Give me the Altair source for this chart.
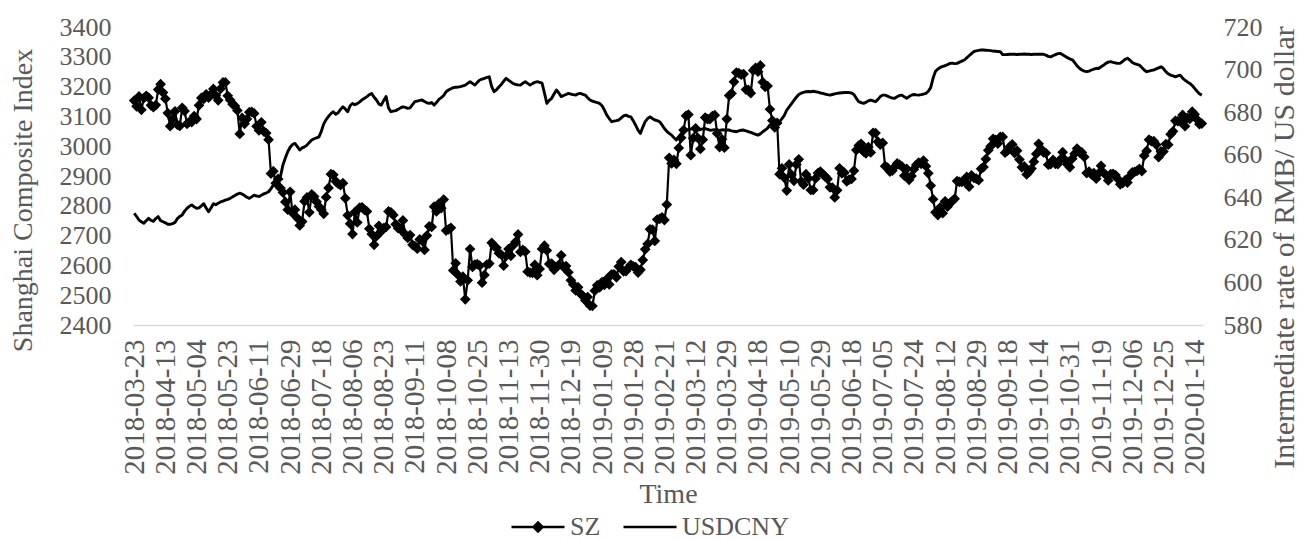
import altair as alt
import pandas as pd

# ---------------- data ----------------
TICK_LABELS = [
    "2018-03-23", "2018-04-13", "2018-05-04", "2018-05-23", "2018-06-11", "2018-06-29",
    "2018-07-18", "2018-08-06", "2018-08-23", "2018-09-11", "2018-10-08", "2018-10-25",
    "2018-11-13", "2018-11-30", "2018-12-19", "2019-01-09", "2019-01-28", "2019-02-21",
    "2019-03-12", "2019-03-29", "2019-04-18", "2019-05-10", "2019-05-29", "2019-06-18",
    "2019-07-05", "2019-07-24", "2019-08-12", "2019-08-29", "2019-09-18", "2019-10-14",
    "2019-10-31", "2019-11-19", "2019-12-06", "2019-12-25", "2020-01-14",
]
TICK_STEP = 13  # trading days between labelled categories
SERIES_NAMES = ["SZ", "USDCNY"]

SZ = [
    3153, 3134, 3167, 3122, 3161, 3169, 3163, 3137, 3131, 3138, 3190, 3208, 3180,
    3159, 3111, 3067, 3091, 3117, 3072, 3068, 3129, 3118, 3075, 3082, 3081, 3101,
    3091, 3137, 3162, 3159, 3174, 3163, 3174, 3192, 3170, 3154, 3193, 3214, 3214,
    3169, 3155, 3141, 3135, 3120, 3041, 3095, 3075, 3091, 3114, 3115, 3110, 3067,
    3053, 3080, 3050, 3044, 3022, 2908, 2916, 2876, 2890, 2859, 2845, 2813, 2787,
    2847, 2776, 2787, 2759, 2734, 2747, 2815, 2828, 2778, 2838, 2831, 2814, 2798,
    2787, 2773, 2829, 2860, 2906, 2904, 2882, 2874, 2869, 2876, 2825, 2768, 2740,
    2705, 2779, 2744, 2794, 2795, 2786, 2781, 2723, 2705, 2669, 2698, 2733, 2715,
    2725, 2729, 2781, 2778, 2769, 2738, 2725, 2721, 2751, 2704, 2692, 2702, 2669,
    2665, 2656, 2687, 2682, 2652, 2700, 2731, 2729, 2797, 2781, 2807, 2792, 2821,
    2717, 2721, 2726, 2583, 2607, 2568, 2546, 2562, 2486, 2550, 2655, 2595, 2603,
    2604, 2599, 2542, 2568, 2603, 2606, 2676, 2665, 2659, 2641, 2636, 2599, 2631,
    2655, 2632, 2668, 2679, 2704, 2645, 2652, 2646, 2579, 2576, 2575, 2602, 2567,
    2588, 2655, 2666, 2650, 2605, 2606, 2585, 2594, 2602, 2634, 2594, 2598, 2577,
    2550, 2536, 2516, 2527, 2505, 2498, 2483, 2494, 2465, 2464, 2515, 2533, 2526,
    2544, 2535, 2554, 2536, 2570, 2570, 2560, 2596, 2611, 2580, 2581, 2592, 2602,
    2597, 2594, 2576, 2585, 2618, 2654, 2672, 2721, 2720, 2682, 2754, 2756, 2761,
    2752, 2804, 2961, 2942, 2954, 2941, 2994, 3028, 3054, 3102, 3106, 2970, 3027,
    3060, 3027, 2991, 3022, 3096, 3091, 3091, 3101, 3104, 3043, 2997, 3023, 2995,
    3091, 3170, 3177, 3216, 3247, 3245, 3240, 3242, 3190, 3189, 3178, 3254, 3263,
    3250, 3271, 3215, 3199, 3202, 3124, 3086, 3063, 3078, 2906, 2926, 2894, 2851,
    2939, 2904, 2884, 2939, 2956, 2882, 2871, 2906, 2892, 2853, 2853, 2892, 2910,
    2915, 2906, 2899, 2890, 2862, 2861, 2828, 2852, 2926, 2909, 2911, 2882, 2888,
    2890, 2918, 2987, 3002, 3008, 2982, 2976, 2997, 2979, 3045, 3044, 3015, 3005,
    3011, 2933, 2928, 2915, 2918, 2931, 2942, 2938, 2932, 2901, 2924, 2887, 2900,
    2923, 2937, 2945, 2941, 2952, 2933, 2909, 2868, 2822, 2778, 2769, 2795, 2775,
    2815, 2797, 2809, 2816, 2824, 2883, 2880, 2880, 2883, 2897, 2864, 2902, 2894,
    2891, 2886, 2924, 2930, 2957, 2986, 3000, 3025, 3021, 3009, 3031, 3031, 2978,
    2985, 2999, 3006, 2977, 2985, 2955, 2929, 2932, 2905, 2914, 2925, 2948, 2974,
    3008, 2991, 2979, 2977, 2938, 2940, 2954, 2941, 2940, 2955, 2980, 2954, 2939,
    2929, 2958, 2975, 2992, 2979, 2979, 2964, 2910, 2915, 2905, 2910, 2891, 2909,
    2934, 2911, 2904, 2885, 2906, 2907, 2903, 2890, 2872, 2876, 2885, 2878, 2899,
    2912, 2914, 2917, 2924, 2916, 2968, 2984, 3022, 3017, 3017, 3005, 2963, 2983,
    2982, 3007, 3005, 3040, 3050, 3085, 3084, 3083, 3105, 3067, 3095, 3092, 3116,
    3107, 3090, 3074, 3076,
]

USDCNY = [
    632.5, 631.0, 629.3, 628.5, 627.8, 629.0, 630.1, 629.2, 628.7, 630.0, 630.9, 629.0, 628.5,
    628.0, 627.3, 627.3, 627.6, 628.2, 630.0, 631.0, 631.7, 633.5, 634.8, 635.8, 636.4, 635.5,
    634.8, 635.0, 636.0, 637.0, 635.0, 633.2, 635.0, 637.0, 636.5, 637.2, 637.8, 638.2, 638.7,
    639.0, 639.5, 640.2, 640.8, 641.5, 641.9, 641.5, 640.8, 640.0, 639.5, 640.2, 641.0, 640.6,
    640.4, 641.0, 641.6, 642.0, 642.6, 644.0, 645.8, 646.5, 647.3, 650.0, 655.2, 658.5, 661.4,
    663.5, 664.8, 665.3, 663.8, 662.2, 663.2, 663.7, 664.5, 665.8, 666.9, 667.5, 667.9, 668.4,
    671.0, 674.5, 676.5, 678.0, 679.3, 680.2, 679.0, 679.7, 681.3, 682.5, 681.5, 680.2, 683.0,
    684.1, 683.5, 684.0, 684.8, 685.8, 686.5, 687.3, 688.2, 688.8, 687.0, 685.7, 683.8, 683.3,
    685.5, 687.3, 682.0, 680.2, 680.5, 680.7, 681.3, 682.0, 682.5, 682.2, 681.8, 682.0, 683.5,
    684.9, 685.2, 685.5, 685.7, 685.0, 684.4, 684.1, 684.5, 683.3, 684.5, 686.0, 686.8, 687.8,
    689.6, 690.4, 691.0, 691.5, 691.7, 691.8, 692.0, 692.3, 692.7, 693.5, 694.3, 693.5, 692.7,
    694.0, 695.1, 695.5, 695.9, 696.3, 696.6, 692.0, 689.6, 690.5, 691.8, 693.0, 694.5, 695.9,
    695.0, 694.2, 693.4, 693.0, 692.8, 692.7, 693.6, 694.3, 693.5, 692.7, 693.4, 694.0, 694.3,
    694.0, 693.6, 689.0, 684.1, 685.5, 686.5, 688.5, 690.4, 689.0, 687.3, 687.8, 688.3, 688.8,
    688.5, 688.2, 688.0, 688.6, 688.8, 688.4, 688.0, 686.8, 685.7, 685.2, 684.8, 684.5, 684.1,
    683.0, 681.0, 678.6, 677.0, 675.5, 675.8, 676.0, 676.3, 677.3, 678.2, 678.6, 678.0, 677.8,
    676.0, 673.9, 671.5, 670.0, 673.0, 675.5, 677.0, 677.8, 677.0, 676.3, 676.0, 675.5, 674.0,
    672.3, 671.0, 670.0, 669.2, 668.0, 666.9, 668.5, 669.9, 670.8, 671.6, 671.8, 672.0, 672.3,
    672.0, 671.6, 671.8, 672.2, 672.3, 671.9, 671.5, 671.6, 671.8, 671.6, 671.4, 671.7, 671.6,
    671.6, 671.6, 671.2, 671.0, 670.8, 671.2, 671.5, 671.6, 671.2, 670.8, 670.5, 670.0, 669.6,
    669.2, 669.8, 670.8, 671.6, 672.5, 674.0, 674.7, 674.7, 674.7, 675.5, 677.0, 678.5, 681.0,
    682.5, 684.0, 685.5, 687.0, 688.3, 688.9, 689.3, 689.6, 689.7, 689.6, 689.8, 689.6, 689.4,
    689.0, 688.8, 688.5, 688.2, 688.0, 688.3, 688.6, 688.8, 689.0, 689.1, 689.2, 689.2, 689.2,
    689.0, 688.3, 686.5, 684.9, 684.5, 684.1, 684.6, 685.3, 685.7, 685.3, 684.9, 686.0, 687.3,
    688.0, 688.0, 687.5, 687.0, 686.6, 686.5, 687.2, 687.8, 688.0, 687.2, 686.5, 687.3, 688.0,
    688.3, 688.1, 688.0, 688.2, 688.5, 688.8, 689.8, 691.5, 696.0, 699.2, 700.3, 701.0, 701.5,
    701.8, 702.3, 702.9, 703.0, 702.8, 702.9, 703.5, 704.0, 704.5, 705.5, 706.5, 707.5, 708.5,
    708.8, 709.0, 709.2, 709.2, 709.1, 709.0, 708.9, 708.7, 708.6, 708.5, 708.4, 707.0, 707.0,
    707.1, 707.2, 707.2, 707.2, 707.1, 707.2, 707.2, 707.3, 707.2, 707.2, 707.1, 707.2, 707.2,
    707.2, 707.2, 707.2, 706.8, 706.2, 706.0, 706.5, 707.0, 707.5, 707.6, 707.0, 706.3, 705.6,
    705.0, 704.6, 703.3, 701.8, 700.6, 699.8, 699.3, 699.0, 699.3, 699.8, 700.2, 700.6, 700.5,
    701.3, 702.0, 702.9, 703.5, 703.7, 703.4, 703.1, 702.9, 703.0, 703.8, 704.8, 705.3, 704.5,
    703.3, 702.8, 702.4, 702.1, 701.0, 699.8, 699.0, 699.3, 699.6, 699.8, 700.3, 700.8, 701.3,
    700.5, 699.0, 698.0, 697.4, 697.0, 696.6, 697.0, 697.4, 696.0, 695.0, 694.2, 693.5, 692.5,
    691.2, 689.8, 688.6, 688.0,
]

LEFT_TICKS = list(range(2400, 3401, 100))
RIGHT_TICKS = list(range(580, 721, 20))

# ---------------- styling ----------------
FONT = "Liberation Serif"
GREY = "#595959"
N = max(len(SZ), len(USDCNY))

sz_df = pd.DataFrame({"idx": list(range(len(SZ))), "value": SZ, "series": SERIES_NAMES[0]})
usd_df = pd.DataFrame({"idx": list(range(len(USDCNY))), "value": USDCNY, "series": SERIES_NAMES[1]})

label_arr = "[" + ",".join("'" + t + "'" for t in TICK_LABELS) + "]"

SZ_PATH = "M-1,0L1,0M0,-0.17L0.17,0L0,0.17L-0.17,0Z"
LINE_PATH = "M-1,0L1,0"


def legend_for(shape, x_pos):
    return alt.Legend(
        title=None, orient="none", legendX=x_pos, legendY=472, direction="horizontal",
        symbolSize=2809, symbolStrokeWidth=2.5, symbolStrokeColor="black",
        symbolFillColor="black", symbolType=shape, symbolOpacity=1,
        labelFont=FONT, labelFontSize=26, labelColor=GREY, labelOffset=4,
        padding=0,
    )


x_enc = alt.X(
    "idx:Q",
    scale=alt.Scale(domain=[-0.5, N - 0.5], nice=False, zero=False),
    axis=alt.Axis(
        values=[k * TICK_STEP for k in range(len(TICK_LABELS))],
        labelExpr=label_arr + "[round(datum.value / %d)]" % TICK_STEP,
        labelAngle=270, labelAlign="right", labelBaseline="middle",
        labelFontSize=29,
        labelPadding=14, labelOverlap=False, labelFlush=False, labelBound=False,
        ticks=False, tickSize=0, grid=False,
        domainColor="#d9d9d9", domainWidth=1.5,
        title="Time", titlePadding=6,
    ),
)
y_left = alt.Y(
    "value:Q",
    scale=alt.Scale(domain=[2400, 3400], nice=False, zero=False),
    axis=alt.Axis(
        values=LEFT_TICKS, format="d", orient="left", title="Shanghai Composite Index",
        grid=False, ticks=False, tickSize=0, domain=False, labelPadding=22,
        titleX=-96, titleY=173, titleAngle=270, titleBaseline="bottom",
    ),
)
y_right = alt.Y(
    "value:Q",
    scale=alt.Scale(domain=[580, 720], nice=False, zero=False),
    axis=alt.Axis(
        values=RIGHT_TICKS, format="d", orient="right",
        title="Intermediate rate of RMB/ US dollar", titleFontSize=30,
        grid=False, ticks=False, tickSize=0, domain=False, labelPadding=20,
        titleX=66, titleY=220, titleAngle=270, titleBaseline="top",
    ),
)

sz_color = alt.Color(
    "series:N",
    scale=alt.Scale(domain=[SERIES_NAMES[0]], range=["black"]),
    legend=legend_for(SZ_PATH, 377),
)
usd_color = alt.Color(
    "series:N",
    scale=alt.Scale(domain=[SERIES_NAMES[1]], range=["black"]),
    legend=legend_for(LINE_PATH, 489),
)

sz_layer = alt.Chart(sz_df).mark_line(
    strokeWidth=2.2,
    point=alt.OverlayMarkDef(shape="diamond", size=115, filled=True, opacity=1),
).encode(x=x_enc, y=y_left, color=sz_color)

usd_layer = alt.Chart(usd_df).mark_line(strokeWidth=2.9, strokeJoin="round").encode(
    x=x_enc, y=y_right, color=usd_color
)

chart = (
    alt.layer(sz_layer, usd_layer)
    .resolve_scale(y="independent", color="independent")
    .properties(
        width=1070, height=298,
        autosize=alt.AutoSizeParams(type="none"),
        padding={"left": 125, "top": 19, "right": 99, "bottom": 215},
        background="white",
    )
    .configure_view(stroke=None)
    .configure_axis(
        labelFont=FONT, labelFontSize=26, labelColor=GREY,
        titleFont=FONT, titleFontSize=28, titleColor=GREY, titleFontWeight="normal",
    )
)

chart.save("out.html", embed_options={"renderer": "svg", "actions": False})
